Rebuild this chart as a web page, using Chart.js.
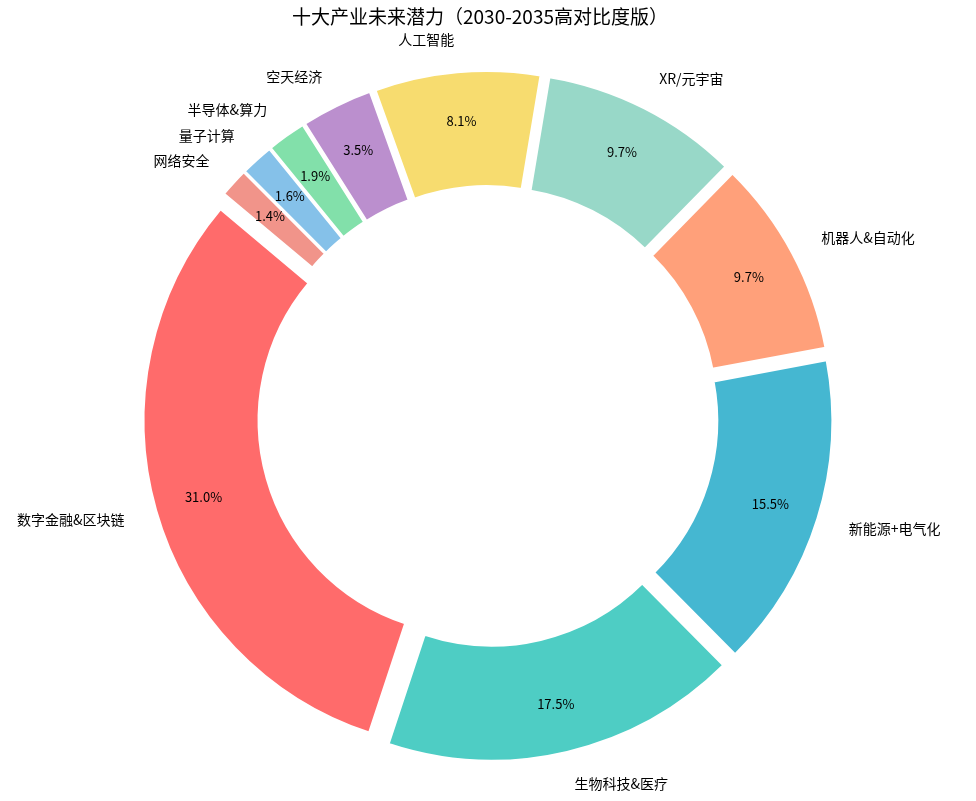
<!DOCTYPE html>
<html lang="zh-CN">
<head>
<meta charset="utf-8">
<title>十大产业未来潜力</title>
<script src="https://cdn.jsdelivr.net/npm/chart.js@4.4.1/dist/chart.umd.min.js"></script>
<style>
    html, body { margin: 0; padding: 0; background: #fff; }
    #wrap { width: 976px; height: 801px; position: relative; }
</style>
</head>
<body>
<div id="wrap"><canvas id="chartIndustrias"></canvas></div>
<script>
// ── Datos (orden antihorario, como en el original) ───────────────
const categories = ['数字金融&区块链', '生物科技&医疗', '新能源+电气化', '机器人&自动化', 'XR/元宇宙',
                    '人工智能', '空天经济', '半导体&算力', '量子计算', '网络安全'];
const potential = [31.0, 17.5, 15.5, 9.7, 9.7, 8.1, 3.5, 1.9, 1.6, 1.4];
const colors = ['#FF6B6B', '#4ECDC4', '#45B7D1', '#FFA07A', '#98D8C8',
                '#F7DC6F', '#BB8FCE', '#82E0AA', '#85C1E9', '#F1948A'];
const chartTitle = '十大产业未来潜力（2030-2035高对比度版）';

const FONT = '"Noto Sans CJK SC", "Noto Sans", sans-serif';
const RADIUS = 328.6;            // radio exterior en px
const EXPLODE = 0.05 * RADIUS;   // separación de cada porción

// Chart.js dibuja en sentido horario: invertimos el orden
const labelsCW = categories.slice().reverse();
const valuesCW = potential.slice().reverse();
const colorsCW = colors.slice().reverse();
const total = potential.reduce((a, b) => a + b, 0);

// Desplaza cada arco hacia afuera sin agrandar su radio
const explodePlugin = {
    id: 'explode',
    beforeDatasetDraw(chart, args) {
        const ctx = chart.ctx;
        args.meta.data.forEach(arc => {
            const mid = (arc.startAngle + arc.endAngle) / 2;
            ctx.save();
            ctx.translate(Math.cos(mid) * EXPLODE, Math.sin(mid) * EXPLODE);
            arc.draw(ctx, chart.chartArea);
            ctx.restore();
        });
        return false;
    }
};

// Etiquetas exteriores, porcentajes y título
const labelsPlugin = {
    id: 'pieLabels',
    afterDraw(chart) {
        const ctx = chart.ctx;
        const meta = chart.getDatasetMeta(0);
        ctx.save();
        ctx.fillStyle = '#000';
        ctx.textBaseline = 'middle';
        meta.data.forEach((arc, i) => {
            const mid = (arc.startAngle + arc.endAngle) / 2;
            const cos = Math.cos(mid), sin = Math.sin(mid);
            const cx = arc.x + cos * EXPLODE;
            const cy = arc.y + sin * EXPLODE;
            const r = arc.outerRadius;

            ctx.font = `14px ${FONT}`;
            ctx.textAlign = cos < 0 ? 'right' : 'left';
            ctx.fillText(labelsCW[i], cx + cos * r * 1.1, cy + sin * r * 1.1);

            ctx.font = `13px ${FONT}`;
            ctx.textAlign = 'center';
            const pct = (valuesCW[i] / total * 100).toFixed(1) + '%';
            ctx.fillText(pct, cx + cos * r * 0.85, cy + sin * r * 0.85);
        });

        ctx.font = `19px ${FONT}`;
        ctx.textAlign = 'center';
        ctx.fillText(chartTitle, 480, 17);
        ctx.restore();
    }
};

new Chart(document.getElementById('chartIndustrias'), {
    type: 'doughnut',
    data: {
        labels: labelsCW,
        datasets: [{
            data: valuesCW,
            backgroundColor: colorsCW,
            borderColor: '#ffffff',
            borderWidth: 2,
            borderJoinStyle: 'miter'
        }]
    },
    options: {
        responsive: true,
        maintainAspectRatio: false,
        animation: false,
        radius: RADIUS,
        cutout: '65%',
        rotation: -50,   // inicio a 140° (antihorario desde el eje x)
        layout: { padding: { top: 31, bottom: 0, left: 0, right: 0 } },
        plugins: {
            legend: { display: false },
            tooltip: { enabled: false },
            title: { display: false }
        }
    },
    plugins: [explodePlugin, labelsPlugin]
});
</script>
</body>
</html>
